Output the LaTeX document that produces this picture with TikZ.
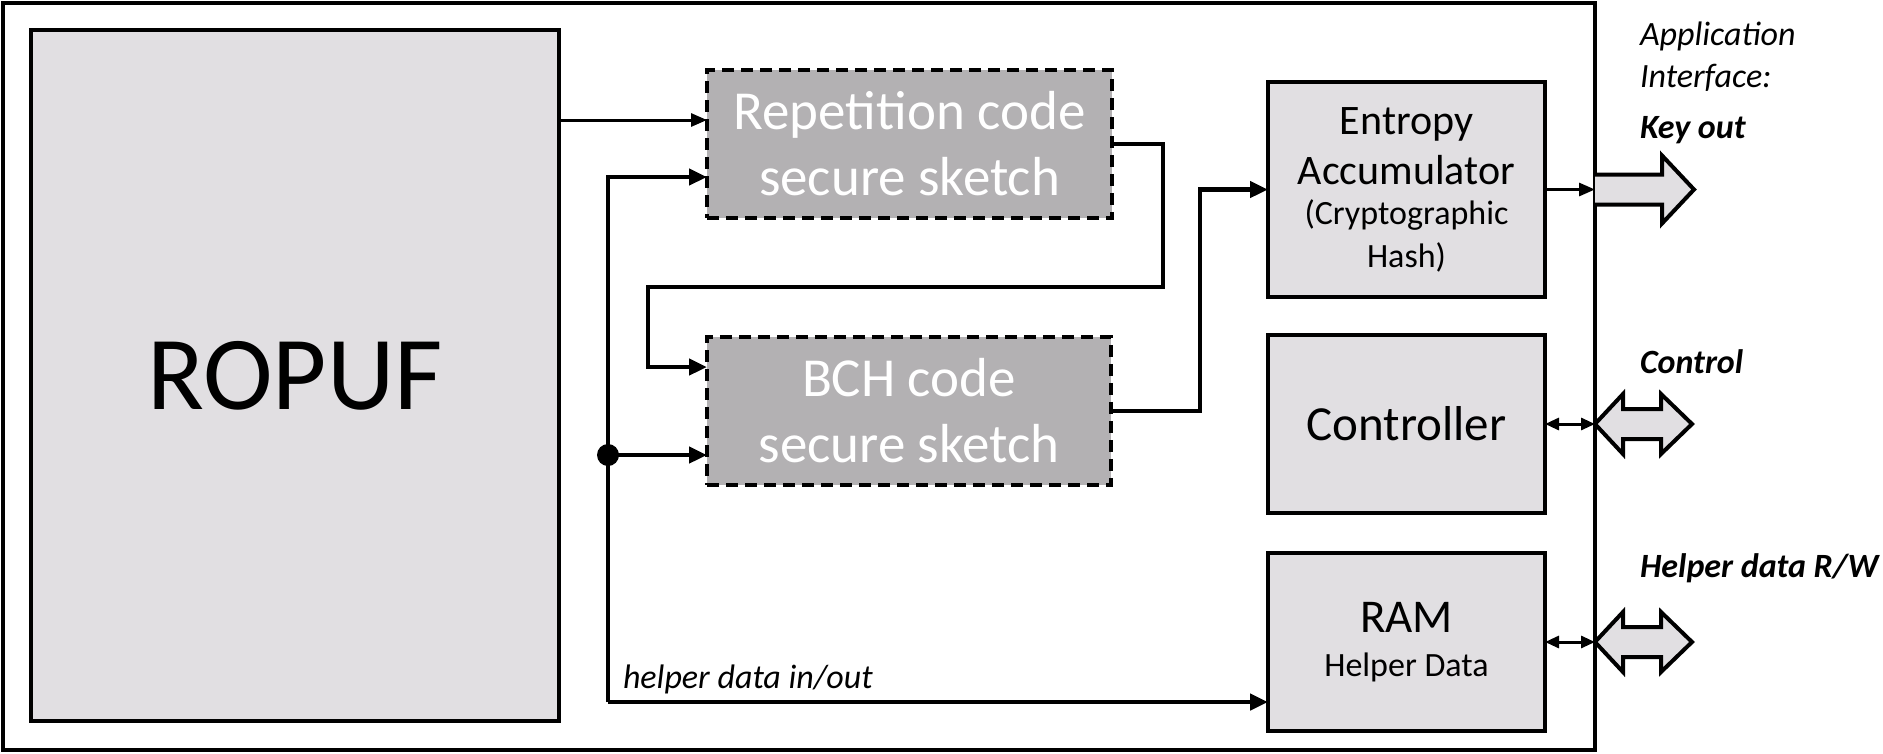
\documentclass[tikz,border=0pt]{standalone}
\usepackage{fontspec}
\setmainfont{Carlito}
\usepackage{tikz}
\usetikzlibrary{arrows.meta,calc,positioning}
\definecolor{boxgray}{HTML}{E1DFE2}
\definecolor{sketchgray}{HTML}{B3B1B3}
\tikzset{
  every node/.style = {outer sep=0, inner sep=0},
  arrow/.style = {-{Triangle[length=18pt,width=16pt]}, line width=4.5pt},
  thinarrow/.style = {-{Triangle[length=16pt,width=13pt]}, line width=3pt},
  biarrow/.style = {{Triangle[length=14pt,width=12pt]}-{Triangle[length=14pt,width=12pt]}, line width=3pt},
  line/.style = {line width=4pt},
  block/.style = {rectangle, draw, fill=boxgray, line width=4pt, align=center},
  sketch/.style = {rectangle, draw, fill=sketchgray, text=white, line width=4pt,
    dash pattern=on 12pt off 7pt, align=center, font=\fontsize{55}{66}\selectfont},
  fatarrow/.style = {draw, fill=boxgray, line width=4pt, line join=miter},
  label/.style = {font=\fontsize{34}{40}\selectfont\itshape, anchor=base west},
  tag/.style = {font=\fontsize{34}{40}\selectfont\bfseries\itshape, anchor=base west}
}

\begin{document}
\begin{tikzpicture}[x=1pt, y=-1pt]
  \useasboundingbox (0,0) rectangle (1883,753);

  % chip outline and blocks
  \node[draw, line width=4pt, minimum width=1592pt, minimum height=747pt] (chip) at (799,376.5) {};
  \node[block, minimum width=528pt, minimum height=691pt, font=\fontsize{105}{120}\selectfont] (ropuf) at (295,375.5) {ROPUF};
  \node[sketch, minimum width=405pt, minimum height=148pt] (rep) at (909.5,144) {Repetition code\\secure sketch};
  \node[sketch, minimum width=404pt, minimum height=148pt] (bch) at (909,411) {BCH code\\secure sketch};
  \node[block, minimum width=277pt, minimum height=215pt, font=\fontsize{42}{50}\selectfont] (entropy) at (1406.5,189.5)
    {Entropy\\Accumulator\\[-10pt]\fontsize{34}{40}\selectfont(Cryptographic\\[-7pt]\fontsize{34}{40}\selectfont Hash)};
  \node[block, minimum width=277pt, minimum height=178pt, font=\fontsize{49}{58}\selectfont] (ctrl) at (1406.5,424) {Controller};
  \node[block, minimum width=277pt, minimum height=178pt, font=\fontsize{47}{56}\selectfont] (ram) at (1406.5,642)
    {RAM\\[-12pt]\fontsize{34}{40}\selectfont Helper Data};

  % helper data bus
  \coordinate (htop) at (608,177);
  \coordinate (split) at (608,455);
  \coordinate (hbot) at (608,702);
  \draw[thinarrow] (ropuf.east |- 0,120) -- (rep.west |- 0,120);
  \draw[arrow] (hbot) -- (htop) -- (rep.west |- htop);
  \draw[arrow] (split) -- (bch.west |- split);
  \fill (split) circle (11);
  \draw[arrow] (hbot) -- (ram.west |- hbot);

  % repetition -> BCH -> entropy
  \draw[arrow] (rep.east) -- (1163,144) -- (1163,287) -- (648,287) -- (648,367) -- (bch.west |- 0,367);
  \draw[arrow] (bch.east) -- (1200,411) -- (1200,189.5) -- (entropy.west);

  % application interface
  \draw[thinarrow] (entropy.east) -- (chip.east |- entropy.east);
  \draw[biarrow] (ctrl.east) -- (chip.east |- ctrl.east);
  \draw[biarrow] (ram.east) -- (chip.east |- ram.east);
  \draw[fatarrow] (chip.east |- entropy) ++(0,-15) -- ++(67,0) -- ++(0,-19) -- ++(32,34) -- ++(-32,34) -- ++(0,-19) -- ++(-67,0);
  \draw[fatarrow] (chip.east |- ctrl) -- ++(28,-30) -- ++(0,15) -- ++(38,0) -- ++(0,-15) -- ++(31,30)
    -- ++(-31,30) -- ++(0,-15) -- ++(-38,0) -- ++(0,15) -- cycle;
  \draw[fatarrow] (chip.east |- ram) -- ++(28,-30) -- ++(0,15) -- ++(38,0) -- ++(0,-15) -- ++(31,30)
    -- ++(-31,30) -- ++(0,-15) -- ++(-38,0) -- ++(0,15) -- cycle;

  % labels
  \node[label] (appl) at (1640,45) {Application};
  \node[label] (intf) at (1640,87) {Interface:};
  \node[tag] (keyout) at (1640,138) {Key out};
  \node[tag] (control) at (1640,373) {Control};
  \node[tag] (helperrw) at (1640,577) {Helper data R/W};
  \node[label] (helperio) at (623,688) {helper data in/out};
\end{tikzpicture}
\end{document}
